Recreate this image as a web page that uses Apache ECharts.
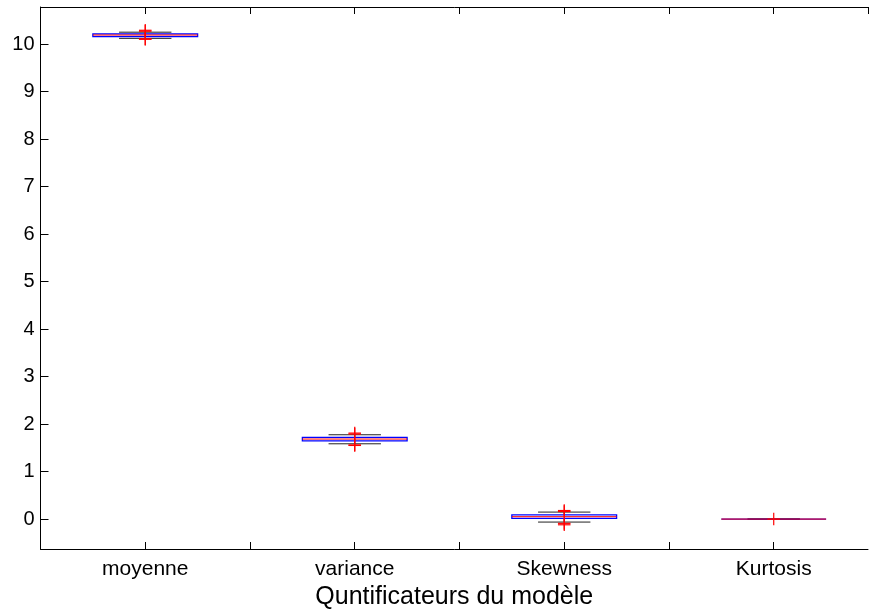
<!DOCTYPE html>
<html>
<head>
<meta charset="utf-8">
<script src="https://cdn.jsdelivr.net/npm/echarts@6/dist/echarts.min.js"></script>
<style>
  html, body { margin: 0; padding: 0; background: #fff; }
  #chart { width: 869px; height: 610px; }
</style>
</head>
<body>
<div id="chart"></div>
<script>
// Box plot statistics per quantity
const categories = ['moyenne', 'variance', 'Skewness', 'Kurtosis'];
const lowerWhisker = [10.12, 1.585, -0.063, 0];
const quartile1 = [10.158, 1.648, 0.015, 0];
const medianValue = [10.19, 1.685, 0.05, 0];
const quartile3 = [10.215, 1.72, 0.09, 0];
const upperWhisker = [10.25, 1.775, 0.147, 0];

// Outliers: category position (1-based) and value
const outlierCategory = [1, 1, 1, 1, 2, 2, 2, 2, 3, 3, 3, 3, 4];
const outlierValue = [10.29, 10.27, 10.11, 10.10, 1.81, 1.79, 1.56, 1.55, 0.18, 0.16, -0.09, -0.12, 0];

const yTicks = [0, 1, 2, 3, 4, 5, 6, 7, 8, 9, 10];
const xAxisTitle = 'Quntificateurs du modèle';

const FONT = '"Liberation Sans", Arial, Helvetica, sans-serif';

const boxData = categories.map((_, i) => [
  i + 1, lowerWhisker[i], quartile1[i], medianValue[i], quartile3[i], upperWhisker[i]
]);
const outlierData = outlierCategory.map((c, i) => [c, outlierValue[i]]);

const chart = echarts.init(document.getElementById('chart'), null, { renderer: 'canvas' });

function renderBox(params, api) {
  const x = api.value(0);
  const lw = api.value(1), b1 = api.value(2), md = api.value(3), b3 = api.value(4), uw = api.value(5);
  const c = (xx, yy) => api.coord([xx, yy]);
  const boxHalf = 0.25, capHalf = 0.125;
  const tl = c(x - boxHalf, b3), br = c(x + boxHalf, b1);
  const mL = c(x - boxHalf, md), mR = c(x + boxHalf, md);
  const lineStyle = (color, dash) => ({ stroke: color, lineWidth: 1, fill: null, lineDash: dash || null });
  const seg = (p, q, style) => ({
    type: 'line',
    shape: { x1: p[0], y1: p[1], x2: q[0], y2: q[1] },
    style: style
  });
  return {
    type: 'group',
    children: [
      seg(c(x, b3), c(x, uw), lineStyle('#000', [4, 3])),
      seg(c(x, b1), c(x, lw), lineStyle('#000', [4, 3])),
      seg(c(x - capHalf, uw), c(x + capHalf, uw), lineStyle('#222')),
      seg(c(x - capHalf, lw), c(x + capHalf, lw), lineStyle('#222')),
      {
        type: 'rect',
        shape: { x: tl[0], y: tl[1], width: br[0] - tl[0], height: br[1] - tl[1] },
        style: { stroke: '#0000ff', lineWidth: 1.3, fill: null }
      },
      seg(mL, mR, lineStyle('#ff0000'))
    ]
  };
}

function renderOutlier(params, api) {
  const p = api.coord([api.value(0), api.value(1)]);
  const h = 6.3;
  const st = { stroke: '#ff0000', lineWidth: 1.2, fill: null };
  return {
    type: 'group',
    children: [
      { type: 'line', shape: { x1: p[0] - h, y1: p[1], x2: p[0] + h, y2: p[1] }, style: st },
      { type: 'line', shape: { x1: p[0], y1: p[1] - h, x2: p[0], y2: p[1] + h }, style: st }
    ]
  };
}

const xCommon = {
  type: 'value',
  min: 0.5,
  max: 4.45,
  interval: 0.5,
  splitLine: { show: false },
  axisLine: { show: true, onZero: false, lineStyle: { color: '#000', width: 1 } },
  axisTick: { show: true, inside: true, length: 7, lineStyle: { color: '#000', width: 1 } }
};

chart.setOption({
  animation: false,
  backgroundColor: '#fff',
  grid: { left: 40.5, right: 1, top: 7, bottom: 61, containLabel: false, outerBoundsMode: 'none' },
  xAxis: [
    Object.assign({}, xCommon, {
      position: 'bottom',
      axisLabel: {
        show: true,
        margin: 10,
        color: '#000',
        fontFamily: FONT,
        fontSize: 21,
        showMaxLabel: false,
        formatter: v => (Number.isInteger(v) && v >= 1 && v <= categories.length) ? categories[v - 1] : ''
      },
      name: xAxisTitle,
      nameLocation: 'middle',
      nameGap: 38,
      nameTextStyle: { color: '#000', fontFamily: FONT, fontSize: 25, verticalAlign: 'middle' }
    }),
    Object.assign({}, xCommon, {
      position: 'top',
      axisLabel: { show: false }
    })
  ],
  yAxis: [{
    type: 'value',
    min: -0.63,
    max: 10.78,
    splitLine: { show: false },
    axisLine: { show: true, onZero: false, lineStyle: { color: '#000', width: 1 } },
    axisTick: {
      show: true, inside: true, length: 8,
      customValues: yTicks,
      lineStyle: { color: '#000', width: 1 }
    },
    axisLabel: {
      show: true,
      margin: 6,
      color: '#000',
      fontFamily: FONT,
      fontSize: 20,
      customValues: yTicks
    }
  }],
  series: [
    {
      type: 'custom',
      name: 'box',
      xAxisIndex: 0,
      renderItem: renderBox,
      encode: { x: 0, y: [1, 2, 3, 4, 5] },
      data: boxData,
      z: 2
    },
    {
      type: 'custom',
      name: 'outliers',
      xAxisIndex: 0,
      renderItem: renderOutlier,
      encode: { x: 0, y: 1 },
      data: outlierData,
      z: 3
    }
  ]
});
</script>
</body>
</html>
